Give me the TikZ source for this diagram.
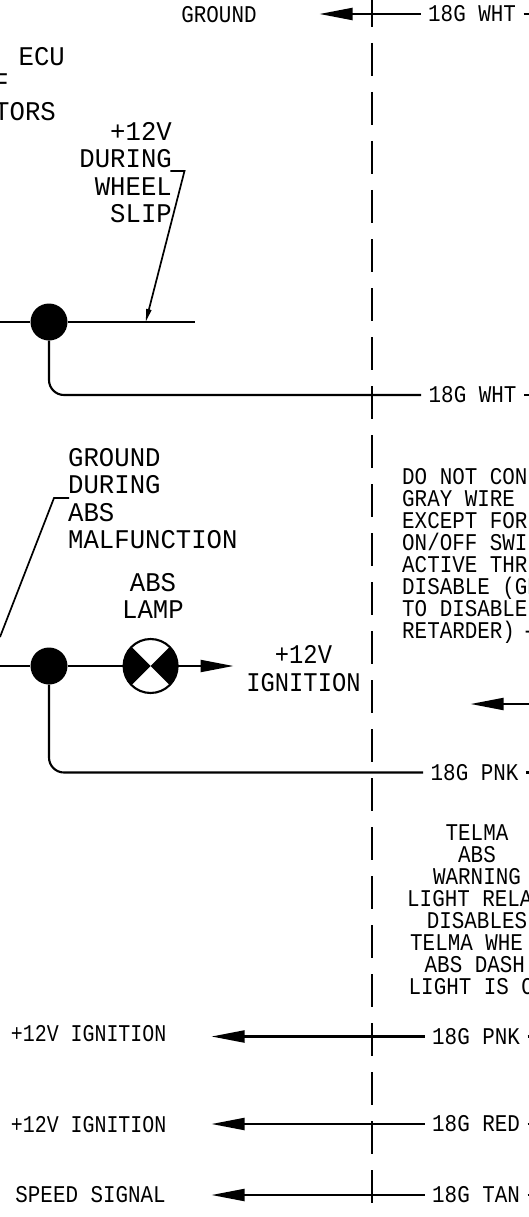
\documentclass[tikz,border=0pt]{standalone}
\usepackage{fontspec}
\usetikzlibrary{arrows.meta}
\newfontfamily\cadsmall[FakeStretch=0.87]{Liberation Mono}
\newfontfamily\cadnarrow[FakeStretch=0.83]{Liberation Mono}
\newfontfamily\cadbig[FakeStretch=0.95]{Liberation Mono}
\newfontfamily\cadbignarrow[FakeStretch=0.88]{Liberation Mono}
\newlength{\du}
\setlength{\du}{1pt}
\tikzset{
  smalltext/.style={inner sep=0pt,font=\cadsmall\fontsize{24}{22}\selectfont},
  narrowtext/.style={inner sep=0pt,font=\cadnarrow\fontsize{24}{22}\selectfont},
  bigtext/.style={inner sep=0pt,font=\cadbig\fontsize{27}{27.4}\selectfont},
  bignarrow/.style={inner sep=0pt,font=\cadbignarrow\fontsize{27}{28}\selectfont},
  wirelabel/.style={smalltext,inner xsep=7.5\du},
  wire/.style={line width=2.1\du},
  dashline/.style={line width=2.3\du,dash pattern=on 33\du off 16\du,dash phase=6\du},
  bigarrow/.style={wire,-{Triangle[length=33pt,width=12pt]}},
  thinarrow/.style={line width=1.7\du,-{Triangle[length=13pt,width=5pt]}},
  junction/.style={circle,fill=black,inner sep=0pt,minimum size=37\du},
  lampsym/.style={circle,draw,fill=white,line width=2.1\du,inner sep=0pt,outer sep=0pt,minimum size=54\du},
}
\begin{document}
\begin{tikzpicture}
\pgftransformxscale{1.000000}
\pgftransformyscale{-1.000000}
\useasboundingbox (0\du,0\du) rectangle (529\du,1217\du);
\clip (0\du,0\du) rectangle (529\du,1217\du);
% centre line
\coordinate (linetop) at (372\du,0\du);
\coordinate (linebot) at (372\du,1206\du);
\draw[dashline] (linetop)--(linebot);
% top wire
\node[smalltext] (ground1) at (219\du,15\du){GROUND};
\node[wirelabel,anchor=west] (wht1) at (420.5\du,14\du){18G WHT};
\coordinate (tipground) at (319.5\du,14\du);
\coordinate (wht1end) at (529\du,14\du);
\draw[bigarrow] (wht1.west)--(tipground);
\draw[wire] (wht1.east)--(wht1end);
% texts top left
\node[bigtext,anchor=west] (ecu) at (18.5\du,57\du){ECU};
\node[bigtext,anchor=north east] (ofend) at (9\du,74\du){F};
\node[bigtext,anchor=east] (tors) at (56\du,112\du){TORS};
\node[bigtext,anchor=north east,align=right] (slipnote) at (172\du,122\du){+12V\\DURING\\WHEEL\\SLIP};
% first junction
\node[junction] (jct1) at (49\du,322\du){};
\coordinate (jct1left) at (0\du,322\du);
\coordinate (jct1right) at (194.5\du,322\du);
\coordinate (sliptip) at (145.7\du,322\du);
\coordinate (slipa) at (170.4\du,171\du);
\coordinate (slipb) at (184.5\du,171\du);
\draw[wire] (jct1left)--(jct1)--(jct1right);
\draw[thinarrow] (slipa)--(slipb)--(sliptip);
\node[wirelabel,anchor=west] (wht2) at (421\du,395\du){18G WHT};
\coordinate (wht2end) at (529\du,395\du);
\draw[wire,rounded corners=15\du] (jct1.south) |- (wht2.west);
\draw[wire] (wht2.east)--(wht2end);
% second junction and lamp
\node[bigtext,anchor=north west,align=left] (gndnote) at (68\du,448\du){GROUND\\DURING\\ABS\\MALFUNCTION};
\coordinate (gnda) at (69\du,498\du);
\coordinate (gndb) at (54\du,498\du);
\coordinate (gndc) at (0\du,637\du);
\draw[line width=1.7\du] (gnda)--(gndb)--(gndc);
\node[bigtext,anchor=north,align=center] (lampname) at (153\du,573\du){ABS\\LAMP};
\node[junction] (jct2) at (49\du,666\du){};
\node[lampsym] (lamp) at (150.6\du,666\du){};
\coordinate (jct2left) at (0\du,666\du);
\coordinate (lamptip) at (233.5\du,666\du);
\fill (lamp.center)--(lamp.135) arc[start angle=225,end angle=135,radius=27\du]--cycle;
\fill (lamp.center)--(lamp.45) arc[start angle=-45,end angle=45,radius=27\du]--cycle;
\draw[wire] (jct2left)--(jct2)--(lamp);
\draw[bigarrow] (lamp.east)--(lamptip);
\node[bignarrow,anchor=north,align=center] (ign1) at (303.5\du,645\du){+12V\\IGNITION};
\node[wirelabel,anchor=west] (pnk1) at (423\du,772.5\du){18G PNK};
\coordinate (pnk1end) at (529\du,772.5\du);
\draw[wire,rounded corners=15\du] (jct2.south) |- (pnk1.west);
\draw[wire] (pnk1.east)--(pnk1end);
% right hand notes
\node[smalltext,anchor=north west,align=left] (graynote) at (402\du,468\du){DO NOT CON\\GRAY WIRE\\EXCEPT FOR\\ON/OFF SWI\\ACTIVE THR\\DISABLE (GR\\TO DISABLE\\RETARDER)\kern-5pt{} -};
\coordinate (graytip) at (470.6\du,704\du);
\coordinate (graystart) at (529\du,704\du);
\draw[bigarrow] (graystart)--(graytip);
\node[smalltext] (telma1) at (477\du,832.5\du){TELMA};
\node[smalltext] (telma2) at (477\du,854.5\du){ABS};
\node[smalltext] (telma3) at (477\du,876.5\du){WARNING};
\node[smalltext,anchor=west] (telma4) at (407\du,899\du){LIGHT RELA};
\node[smalltext] (telma5) at (477\du,920.5\du){DISABLES};
\node[smalltext,anchor=west] (telma6) at (410\du,942.5\du){TELMA WHE};
\node[smalltext,anchor=west] (telma7) at (424.5\du,964.5\du){ABS DASH};
\node[smalltext,anchor=west] (telma8) at (408.5\du,986.5\du){LIGHT IS O};
% bottom wires
\node[narrowtext,anchor=east] (ign2) at (166.5\du,1034\du){+12V IGNITION};
\node[wirelabel,anchor=west] (pnk2) at (424.5\du,1036.5\du){18G PNK};
\coordinate (tippnk) at (211.5\du,1036.5\du);
\coordinate (pnk2end) at (529\du,1036.5\du);
\draw[bigarrow] (pnk2.west)--(tippnk);
\draw[wire] (pnk2.east)--(pnk2end);
\node[narrowtext,anchor=east] (ign3) at (166.5\du,1125\du){+12V IGNITION};
\node[wirelabel,anchor=west] (red1) at (424.5\du,1124\du){18G RED};
\coordinate (tipred) at (211.5\du,1124\du);
\coordinate (red1end) at (529\du,1124\du);
\draw[bigarrow] (red1.west)--(tipred);
\draw[wire] (red1.east)--(red1end);
\node[smalltext,anchor=east] (speed) at (166\du,1195\du){SPEED SIGNAL};
\node[wirelabel,anchor=west] (tan1) at (424.5\du,1195\du){18G TAN};
\coordinate (tiptan) at (211.5\du,1195\du);
\coordinate (tan1end) at (529\du,1195\du);
\draw[bigarrow] (tan1.west)--(tiptan);
\draw[wire] (tan1.east)--(tan1end);
\end{tikzpicture}
\end{document}
